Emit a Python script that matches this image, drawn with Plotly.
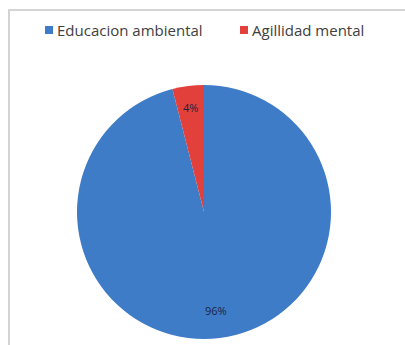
import math
import plotly.graph_objects as go

labels = ["Educacion ambiental", "Agillidad mental"]
values = [96, 4]
colors = ["#3f7cc8", "#e2403a"]
label_radius = [0.78, 0.83]
legend_x_px = [45, 240]

W, H = 405, 345
dom_x = [77 / W, 331 / W]
dom_y = [1 - 339 / H, 1 - 85 / H]

fig = go.Figure(go.Pie(
    labels=labels,
    values=values,
    marker=dict(colors=colors, line=dict(width=0)),
    sort=False,
    direction="clockwise",
    rotation=0,
    textposition="none",
    domain=dict(x=dom_x, y=dom_y),
    hoverinfo="skip",
    showlegend=False,
))

# percent labels placed along each slice's mid-angle
total = sum(values)
cx = (dom_x[0] + dom_x[1]) / 2
cy = (dom_y[0] + dom_y[1]) / 2
rpx = (dom_x[1] - dom_x[0]) * W / 2
start = 0.0
for v, rf in zip(values, label_radius):
    mid = (start + v / 2) / total * 2 * math.pi
    start += v
    dx = rf * rpx * math.sin(mid) / W
    dy = rf * rpx * math.cos(mid) / H
    fig.add_annotation(xref="paper", yref="paper", x=cx + dx, y=cy + dy,
                       xanchor="center", yanchor="middle",
                       text=f"{round(v / total * 100)}%", showarrow=False,
                       font=dict(family="Open Sans", size=11, color="#1a2540"))

# legend (square swatch + label) at the top
ly = 30
for lab, col, lx in zip(labels, colors, legend_x_px):
    fig.add_shape(type="rect", xref="paper", yref="paper",
                  x0=lx / W, x1=(lx + 8) / W, y0=1 - (ly + 4) / H, y1=1 - (ly - 4) / H,
                  line=dict(color=col, width=0), fillcolor=col)
    fig.add_annotation(xref="paper", yref="paper", x=(lx + 10) / W, y=1 - ly / H,
                       xanchor="left", yanchor="middle", text=lab, showarrow=False,
                       font=dict(family="Open Sans", size=15, color="#404040"))

fig.add_shape(type="rect", xref="paper", yref="paper",
              x0=9 / W, x1=1.2, y0=-0.2, y1=1 - 10 / H,
              line=dict(color="#d4d4d4", width=2), fillcolor="rgba(0,0,0,0)", layer="below")

fig.update_layout(
    width=W, height=H,
    margin=dict(l=0, r=0, t=0, b=0),
    paper_bgcolor="white",
    plot_bgcolor="white",
    showlegend=False,
)

fig.write_html("out.html")
